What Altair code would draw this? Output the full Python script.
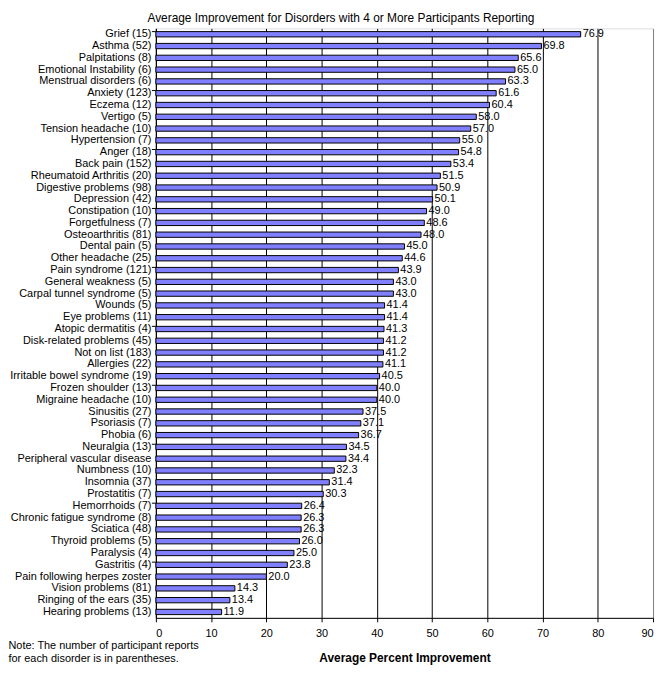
import altair as alt
import pandas as pd

labels = ["Grief (15)", "Asthma (52)", "Palpitations (8)", "Emotional Instability (6)",
          "Menstrual disorders (6)", "Anxiety (123)", "Eczema (12)", "Vertigo (5)",
          "Tension headache (10)", "Hypertension (7)", "Anger (18)", "Back pain (152)",
          "Rheumatoid Arthritis (20)", "Digestive problems (98)", "Depression (42)",
          "Constipation (10)", "Forgetfulness (7)", "Osteoarthritis (81)", "Dental pain (5)",
          "Other headache (25)", "Pain syndrome (121)", "General weakness (5)",
          "Carpal tunnel syndrome (5)", "Wounds (5)", "Eye problems (11)",
          "Atopic dermatitis (4)", "Disk-related problems (45)", "Not on list (183)",
          "Allergies (22)", "Irritable bowel syndrome (19)", "Frozen shoulder (13)",
          "Migraine headache (10)", "Sinusitis (27)", "Psoriasis (7)", "Phobia (6)",
          "Neuralgia (13)", "Peripheral vascular disease", "Numbness (10)", "Insomnia (37)",
          "Prostatitis (7)", "Hemorrhoids (7)", "Chronic fatigue syndrome (8)",
          "Sciatica (48)", "Thyroid problems (5)", "Paralysis (4)", "Gastritis (4)",
          "Pain following herpes zoster", "Vision problems (81)", "Ringing of the ears (35)",
          "Hearing problems (13)"]

values = [76.9, 69.8, 65.6, 65.0, 63.3, 61.6, 60.4, 58.0, 57.0, 55.0, 54.8, 53.4,
          51.5, 50.9, 50.1, 49.0, 48.6, 48.0, 45.0, 44.6, 43.9, 43.0, 43.0, 41.4,
          41.4, 41.3, 41.2, 41.2, 41.1, 40.5, 40.0, 40.0, 37.5, 37.1, 36.7, 34.5,
          34.4, 32.3, 31.4, 30.3, 26.4, 26.3, 26.3, 26.0, 25.0, 23.8, 20.0, 14.3,
          13.4, 11.9]

x_ticks = [0, 10, 20, 30, 40, 50, 60, 70, 80, 90]

title_text = "Average Improvement for Disorders with 4 or More Participants Reporting"
x_title = "Average Percent Improvement"
note_lines = ["Note: The number of participant reports",
              "for each disorder is in parentheses."]

df = pd.DataFrame({"label": labels, "value": values, "idx": list(range(len(labels)))})
df["text"] = df["value"].map(lambda v: f"{v:.1f}")

FONT = "Arial, Liberation Sans, sans-serif"

yscale = alt.Scale(paddingInner=0.55, paddingOuter=0.275)

y_enc = alt.Y(
    "label:N", sort=labels, scale=yscale, title=note_lines,
    axis=alt.Axis(
        labelFont=FONT, labelFontSize=11, labelColor="black", labelPadding=5,
        tickSize=0, domainColor="black", domainWidth=1,
        titleAngle=0, titleAlign="left", titleBaseline="alphabetic",
        titleX=-149, titleY=625, titleFont=FONT, titleFontSize=11,
        titleFontWeight="normal", titleColor="black", titleLineHeight=13,
    ),
)

x_enc = alt.X(
    "value:Q", scale=alt.Scale(domain=[0, 90], nice=False), title=x_title,
    axis=alt.Axis(
        values=x_ticks, labelFont=FONT, labelFontSize=11, labelColor="black",
        labelPadding=6, tickSize=4, tickColor="black", domainColor="black",
        grid=True,
        gridColor=alt.condition("datum.value == 90", alt.value("#808080"), alt.value("black")),
        gridOpacity=1, gridWidth=1,
        titleFont=FONT, titleFontSize=12, titleFontWeight="bold", titleColor="black",
        titlePadding=14,
    ),
)

base = alt.Chart(df)

bars = base.mark_bar(color="#8080FF", stroke="black", strokeWidth=1).encode(
    x=x_enc, y=y_enc
)

texts = base.mark_text(align="left", baseline="middle", dx=2, font=FONT,
                       fontSize=11, color="black").encode(
    x=alt.X("value:Q"), y=alt.Y("label:N", sort=labels, title=note_lines),
    text="text:N",
)

ticks = base.transform_filter("datum.idx % 5 == 0").mark_rule(
    color="black", strokeWidth=1
).encode(
    y=alt.Y("label:N", sort=labels, bandPosition=0, title=note_lines),
    x=alt.value(-4), x2=alt.value(0),
)

chart = alt.layer(bars, texts, ticks).properties(
    width=501, height=594,
    title=alt.TitleParams(title_text, font=FONT, fontSize=12, fontWeight="normal",
                          color="black", anchor="middle", dx=-64, offset=3),
    autosize=alt.AutoSizeParams(type="none"),
    padding={"left": 149, "top": 18, "right": 6, "bottom": 46},
).configure_view(stroke="#808080", strokeWidth=1).configure(background="white")

chart.save("out.html", embed_options={"renderer": "svg", "actions": False})
